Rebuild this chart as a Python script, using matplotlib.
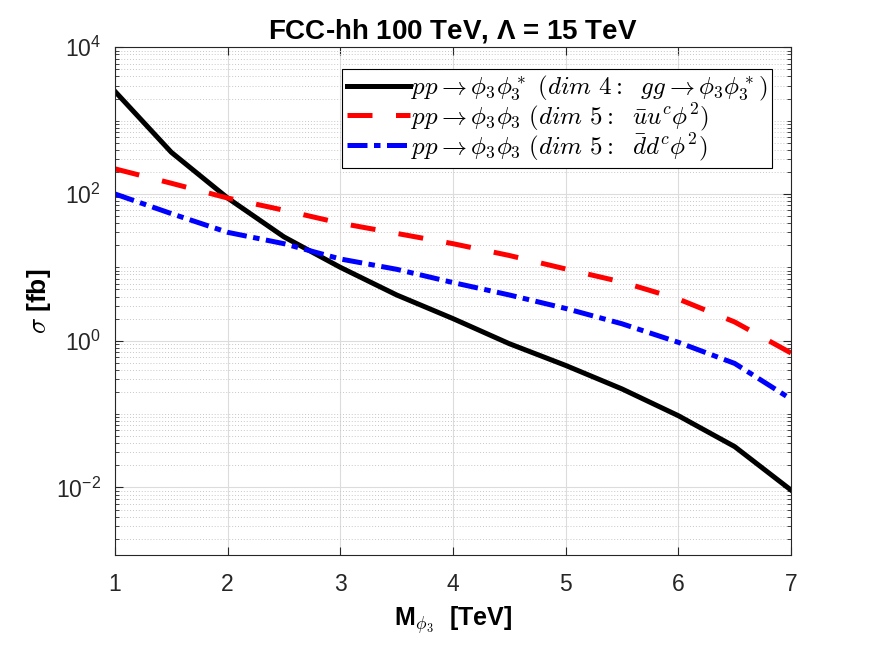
import numpy as np
import matplotlib
matplotlib.use('Agg')
import matplotlib.pyplot as plt
from matplotlib.ticker import LogLocator, FixedLocator, FuncFormatter, NullFormatter

plt.rcParams['font.family'] = ['Liberation Sans', 'DejaVu Sans']
plt.rcParams['mathtext.fontset'] = 'cm'

# masses in TeV
mass = [1.0, 1.5, 2.0, 2.5, 3.0, 3.5, 4.0, 4.5, 5.0, 5.5, 6.0, 6.5, 7.0]
# cross sections in fb
sigma_gg = [2500, 370, 88, 26, 10, 4.2, 2.0, 0.91, 0.46, 0.22, 0.095, 0.036, 0.0092]
sigma_uu = [220, 140, 88, 60, 40, 29, 21, 14.5, 9.5, 6.3, 3.7, 1.8, 0.68]
sigma_dd = [100, 54, 30, 21, 13, 9.4, 6.2, 4.2, 2.75, 1.7, 0.95, 0.49, 0.16]

labels = [
    r'$pp \rightarrow \phi_3\phi_3^*\ (dim\ 4:\ \ gg \rightarrow \phi_3\phi_3^*)$',
    r'$pp \rightarrow \phi_3\phi_3\ (dim\ 5:\ \ \bar{u}u^c\phi^2)$',
    r'$pp \rightarrow \phi_3\phi_3\ (dim\ 5:\ \ \bar{d}d^c\phi^2)$',
]

fig = plt.figure(figsize=(8.75, 6.56), dpi=100)
ax = fig.add_axes([0.1314, 0.154, 0.7726, 0.774])

ax.plot(mass, sigma_gg, color='black', lw=3.6, label=labels[0])
ax.plot(mass, sigma_uu, color='red', lw=3.6, dashes=(5, 4.7), label=labels[1])
ax.plot(mass, sigma_dd, color='blue', lw=3.6, dashes=(4, 1.3, 1.3, 1.3), label=labels[2])

ax.set_yscale('log')
ax.set_xlim(1, 7)
ax.set_ylim(1.2e-3, 1e4)

ax.xaxis.set_major_locator(FixedLocator([1, 2, 3, 4, 5, 6, 7]))
ax.yaxis.set_major_locator(FixedLocator([1e-2, 1e0, 1e2, 1e4]))
ax.yaxis.set_minor_locator(LogLocator(base=10, subs=np.arange(1, 10), numticks=20))
ax.yaxis.set_minor_formatter(NullFormatter())
ax.yaxis.set_major_formatter(FuncFormatter(
    lambda v, p: r'$\mathregular{10^{%d}}$' % int(round(np.log10(v)))))

ax.tick_params(which='both', direction='in', top=True, right=True,
               labelsize=16.5, color='#262626', labelcolor='#262626')
ax.tick_params(which='major', length=6, width=0.8, pad=10)
ax.tick_params(axis='x', which='major', pad=13)
ax.tick_params(which='minor', length=3, width=0.6)

ax.grid(True, which='major', color='#dcdcdc', lw=0.8, ls='-')
ax.grid(True, which='minor', axis='y', color='#c8c8c8', lw=0.7, ls=(0, (1, 2)))
ax.set_axisbelow(True)
for s in ax.spines.values():
    s.set_color('#262626')
    s.set_linewidth(0.8)

ax.set_title(r'FCC-hh 100 TeV, $\mathregular{\Lambda}$ = 15 TeV',
             fontsize=20, fontweight='bold', pad=6)
ax.set_xlabel(r'M$_{\phi_3}$  [TeV]', fontsize=18, fontweight='bold', labelpad=6)
ax.set_ylabel(r'$\sigma$ [fb]', fontsize=19, fontweight='bold', labelpad=2)

leg = ax.legend(loc='upper right', fontsize=18, frameon=True, fancybox=False,
                edgecolor='black', framealpha=1, handlelength=2.5,
                handletextpad=0.05, borderpad=0.2, labelspacing=-0.08,
                borderaxespad=0.0, bbox_to_anchor=(0.972, 0.957))
leg.get_frame().set_linewidth(0.8)

fig.savefig('out.png', dpi=100)
